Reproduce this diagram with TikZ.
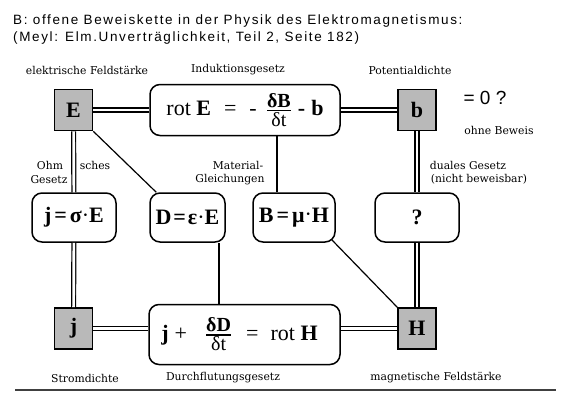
\documentclass[tikz,border=0pt]{standalone}
\usepackage{fontspec}
\setmainfont{Liberation Serif}
\newfontfamily\sansf{Liberation Sans}
\newfontfamily\titlef[LetterSpace=12]{Liberation Sans}
\newfontfamily\lblf{DejaVu Serif}
\newcommand\cdotm{{\mdseries\raisebox{0.5pt}{·}}}
\begin{document}
\begin{tikzpicture}[x=1pt,y=-1pt,
 lbl/.style={font=\lblf\fontsize{10.8}{12}\selectfont, inner sep=0pt},
 ttl/.style={font=\titlef\fontsize{13.5}{15}\selectfont, anchor=base west, inner sep=0pt},
 sq/.style={draw, line width=1.6pt, fill=gray!55, minimum width=38pt, minimum height=41pt, inner sep=0pt, font=\bfseries\fontsize{22}{24}\selectfont},
 eq/.style={draw, line width=1.5pt, rounded corners=10pt, minimum height=49pt, inner sep=0pt, font=\bfseries\fontsize{22}{24}\selectfont},
 dbl/.style={line width=1.2pt, double=white, double distance=2.7pt},
 sl/.style={line width=1.2pt}]
\useasboundingbox (0,0) rectangle (566,400);
% title
\node[ttl] (t1) at (13,24) {B: offene Beweiskette in der Physik des Elektromagnetismus:};
\node[ttl] (t2) at (13,41.5) {(Meyl: Elm.Unverträglichkeit, Teil 2, Seite 182)};
% squares
\node[sq] (E) at (73.5,110) {E};
\node[sq] (b) at (417,110) {b};
\node[sq] (j) at (73.5,328.5) {j};
\node[sq] (H) at (417,328.5) {H};
% equation boxes
\node[eq, minimum width=190pt, minimum height=51pt, font=\bfseries\fontsize{22}{26}\selectfont] (rotE) at (245,110)
 {{\mdseries rot} E\hspace{13pt}{\mdseries =}\hspace{13pt}{\mdseries -}\hspace{9pt}$\mbox{\fontsize{20}{20}\selectfont\bfseries δB}\above 1.3pt\mbox{\fontsize{20}{20}\selectfont\mdseries δt}$\hspace{6pt}-\hspace{6pt}b\hspace{4pt}};
\node[eq, minimum width=191pt, minimum height=60pt, font=\bfseries\fontsize{22}{26}\selectfont] (rotH) at (244.5,334.5)
 {\hspace{-10pt}j\hspace{6pt}{\mdseries +}\hspace{18pt}$\mbox{\fontsize{20}{20}\selectfont\bfseries δD}\above 1.3pt\mbox{\fontsize{20}{20}\selectfont\mdseries δt}$\hspace{14pt}{\mdseries =}\hspace{12pt}{\mdseries rot} H};
\node[eq, minimum width=84pt] (jsig) at (74,217.5) {j\hspace{3pt}=\hspace{3pt}σ\cdotm E};
\node[eq, minimum width=75pt] (Deps) at (187.5,217.5) {D\hspace{2pt}=\hspace{2pt}ε\cdotm E};
\node[eq, minimum width=82pt] (Bmu) at (294,217.5) {B\hspace{3pt}=\hspace{3pt}μ\cdotm H};
\node[eq, minimum width=84pt] (q) at (417,217.5) {?};
% connectors
\draw[dbl] (E) -- (rotE);
\draw[dbl] (rotE) -- (b);
\draw[dbl] (E) -- (jsig);
\draw[dbl] (jsig) -- (j);
\draw[dbl] (b) -- (q);
\draw[dbl] (q) -- (H);
\draw[dbl] (j.east) -- (j.east -| rotH.west);
\draw[dbl] (H.west -| rotH.east) -- (H.west);
\coordinate (p1) at ([xshift=32pt]rotE.south);
\coordinate (p2) at ([xshift=31.5pt]Deps.south);
\draw[sl] (E.south east) -- ([xshift=7pt]Deps.north west);
\draw[sl] (p1) -- (p1 |- Bmu.north);
\draw[sl] (p2) -- (p2 |- rotH.north);
\draw[sl] ([xshift=-4pt,yshift=3pt]Bmu.south east) -- (H.north west);
% labels
\node[lbl] (l1) at (87,70) {elektrische Feldstärke};
\node[lbl] (l2) at (238,70) {Induktionsgesetz};
\node[lbl] (l3) at (410,70) {Potentialdichte};
\node[font=\sansf\fontsize{19}{21}\selectfont, inner sep=0pt] (l4) at (485,98) {= 0 ?};
\node[lbl] (l5) at (499,130) {ohne Beweis};
\node[lbl] (l6) at (50,165) {Ohm};
\node[lbl] (l7) at (95,165) {sches};
\node[lbl] (l8) at (49,180) {Gesetz};
\node[lbl] (l9) at (238,165) {Material-};
\node[lbl] (l10) at (230,180) {Gleichungen};
\node[lbl] (l11) at (468,165) {duales Gesetz};
\node[lbl] (l12) at (479,179) {(nicht beweisbar)};
\node[lbl] (l13) at (85,378) {Stromdichte};
\node[lbl] (l14) at (223,378) {Durchflutungsgesetz};
\node[lbl] (l15) at (436,378) {magnetische Feldstärke};
\coordinate (r1) at (15,390);
\coordinate (r2) at (556,390);
\draw[line width=1.3pt, gray!50!black] (r1) -- (r2);
\end{tikzpicture}
\end{document}
